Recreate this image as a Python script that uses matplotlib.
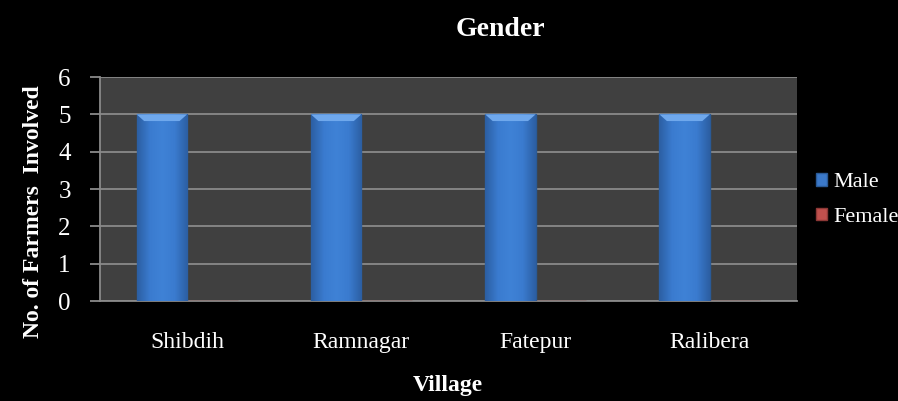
import matplotlib
matplotlib.use("Agg")
import matplotlib.pyplot as plt
import numpy as np
from matplotlib.colors import LinearSegmentedColormap

villages = ["Shibdih", "Ramnagar", "Fatepur", "Ralibera"]
male = [5, 5, 5, 5]
female = [0, 0, 0, 0]
yticks = [0, 1, 2, 3, 4, 5, 6]

plt.rcParams['font.family'] = ['Liberation Serif', 'DejaVu Serif']

fig = plt.figure(figsize=(8.98, 4.01), dpi=100, facecolor='black')
ax = fig.add_axes([100/898, 1-301/401, 697/898, 224/401])
ax.set_facecolor('#404040')

x = np.arange(len(villages))
w = 0.29
b1 = ax.bar(x - w/2, male, w, color='#3b79c9', edgecolor='#2a5a96', linewidth=1.0, label='Male', zorder=3)
b2 = ax.bar(x + w/2, female, w, color='#c0504d', edgecolor='#8c3836', linewidth=1.0, label='Female', zorder=3)

# bevel-like shading on bars
cmap = LinearSegmentedColormap.from_list('bev', ['#2c5fa3', '#3a7bcf', '#3f82d6', '#3a7bcf', '#2c5fa3'])
grad = np.linspace(0, 1, 64).reshape(1, -1)
for p in b1.patches:
    x0, y0 = p.get_x(), p.get_y()
    pw, ph = p.get_width(), p.get_height()
    im = ax.imshow(grad, cmap=cmap, extent=[x0, x0 + pw, y0, y0 + ph], aspect='auto', zorder=3.5)
    im.set_clip_path(p)
    ax.fill([x0, x0 + pw, x0 + pw * 0.85, x0 + pw * 0.15],
            [y0 + ph, y0 + ph, y0 + ph - 0.18, y0 + ph - 0.18],
            color='#6fa8ec', zorder=3.6, linewidth=0)

ax.set_xlim(-0.5, len(villages) - 0.5)
ax.set_ylim(0, 6)
ax.set_yticks(yticks)
ax.set_xticks(x)
ax.set_xticklabels(villages)
ax.yaxis.grid(True, color='#8a8a8a', linewidth=1.3, zorder=1)
ax.set_axisbelow(True)

for s in ['top', 'right']:
    ax.spines[s].set_visible(False)
for s in ['left', 'bottom']:
    ax.spines[s].set_color('#8a8a8a')
    ax.spines[s].set_linewidth(1.3)

ax.tick_params(axis='y', colors='#8a8a8a', length=7, width=1.3, pad=14, labelcolor='white', labelsize=18)
ax.tick_params(axis='x', length=0, pad=22, labelcolor='white', labelsize=17)

fig.text(500/898, 1-36/401, 'Gender', color='white', fontsize=20, fontweight='bold',
         ha='center', va='baseline')
fig.text(448/898, 1-391/401, 'Village', color='white', fontsize=17, fontweight='bold',
         ha='center', va='baseline')
ax.set_ylabel('No. of Farmers  Involved', color='white', fontsize=17, fontweight='bold')
ax.yaxis.set_label_coords((44 - 100) / 697, (301 - 212) / 224)

leg = fig.legend(handles=[b1, b2], labels=['Male', 'Female'], loc='center left',
                 bbox_to_anchor=(816/898, 1-200/401), frameon=False, borderpad=0,
                 borderaxespad=0,
                 fontsize=16, labelcolor='white', handlelength=0.5, handleheight=0.5,
                 handletextpad=0.3, labelspacing=0.7)

fig.savefig('out.png', dpi=100, facecolor='black')
